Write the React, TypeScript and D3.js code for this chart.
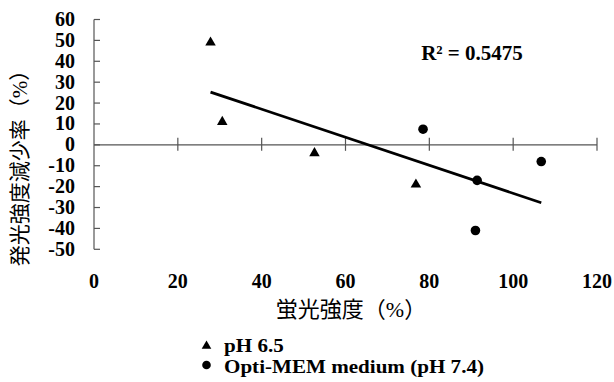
import React, { useRef, useEffect } from 'react';
import * as d3 from 'd3';

// pH 6.5 series
const phX = [27.8, 30.6, 52.6, 76.8];
const phY = [49, 11, -4, -19];
// Opti-MEM medium (pH 7.4) series
const optiX = [78.5, 91.4, 91.0, 106.7];
const optiY = [7.5, -17, -41, -8];

const xTicks = [0, 20, 40, 60, 80, 100, 120];
const yTicks = [60, 50, 40, 30, 20, 10, 0, -10, -20, -30, -40, -50];
const legendLabels = ['pH 6.5', 'Opti-MEM medium (pH 7.4)'];
const rSquaredLabel = 'R² = 0.5475';
const xTitle = '蛍光強度（%）';
const yTitle = '発光強度減少率（%）';

const serif = 'Liberation Serif, Times New Roman, DejaVu Serif, serif';
const cjk = 'Liberation Serif, Noto Sans CJK JP, serif';

const App = () => {
    const chart = useRef<SVGSVGElement>(null);

    useEffect(() => {
        const svg = d3.select(chart.current);
        svg.selectAll('*').remove();

        const x = d3.scaleLinear().domain([0, 120]).range([94, 597]);
        const y = d3.scaleLinear().domain([-50, 60]).range([249.3, 19.5]);
        const axisColor = '#555';

        // y axis line + inner ticks
        svg.append('line')
            .attr('x1', x(0)).attr('x2', x(0))
            .attr('y1', y(60)).attr('y2', y(-50))
            .attr('stroke', axisColor).attr('stroke-width', 1.2);
        svg.selectAll('.ytick')
            .data(yTicks)
            .enter()
            .append('line')
            .attr('x1', x(0)).attr('x2', x(0) + 6)
            .attr('y1', d => y(d)).attr('y2', d => y(d))
            .attr('stroke', axisColor).attr('stroke-width', 1.2);
        svg.selectAll('.ylabel')
            .data(yTicks)
            .enter()
            .append('text')
            .attr('x', 75)
            .attr('y', d => y(d) + 6.5)
            .attr('text-anchor', 'end')
            .attr('font-family', serif)
            .attr('font-weight', 'bold')
            .attr('font-size', 20)
            .text(d => d);

        // x axis line at y = 0 with cross ticks
        svg.append('line')
            .attr('x1', x(0)).attr('x2', x(120))
            .attr('y1', y(0)).attr('y2', y(0))
            .attr('stroke', axisColor).attr('stroke-width', 1.2);
        svg.selectAll('.xtick')
            .data(xTicks.filter(d => d > 0))
            .enter()
            .append('line')
            .attr('x1', d => x(d)).attr('x2', d => x(d))
            .attr('y1', y(0) - 7).attr('y2', y(0) + 6)
            .attr('stroke', axisColor).attr('stroke-width', 1.2);
        svg.selectAll('.xlabel')
            .data(xTicks)
            .enter()
            .append('text')
            .attr('x', d => x(d))
            .attr('y', 288)
            .attr('text-anchor', 'middle')
            .attr('font-family', serif)
            .attr('font-weight', 'bold')
            .attr('font-size', 20)
            .text(d => d);

        // axis titles
        svg.append('text')
            .attr('x', 351).attr('y', 317)
            .attr('text-anchor', 'middle')
            .attr('font-family', cjk)
            .attr('font-size', 22)
            .text(xTitle);
        svg.append('text')
            .attr('transform', 'translate(27, 163) rotate(-90)')
            .attr('text-anchor', 'middle')
            .attr('font-family', cjk)
            .attr('font-size', 21)
            .text(yTitle);

        // linear trend over both series
        const allX = phX.concat(optiX);
        const allY = phY.concat(optiY);
        const mx = d3.mean(allX) as number;
        const my = d3.mean(allY) as number;
        const sxy = d3.sum(allX, (v, i) => (v - mx) * (allY[i] - my));
        const sxx = d3.sum(allX, v => (v - mx) * (v - mx));
        const slope = sxy / sxx;
        const x0 = d3.min(allX) as number;
        const x1 = d3.max(allX) as number;
        svg.append('line')
            .attr('x1', x(x0)).attr('y1', y(my + slope * (x0 - mx)))
            .attr('x2', x(x1)).attr('y2', y(my + slope * (x1 - mx)))
            .attr('stroke', '#000').attr('stroke-width', 2.8);

        const tri = d3.symbol().type(d3.symbolTriangle).size(48);

        svg.selectAll('.tri')
            .data(phX)
            .enter()
            .append('path')
            .attr('d', tri)
            .attr('transform', (d, i) => `translate(${x(d)},${y(phY[i])})`)
            .attr('fill', '#000');
        svg.selectAll('.dot')
            .data(optiX)
            .enter()
            .append('circle')
            .attr('cx', d => x(d))
            .attr('cy', (d, i) => y(optiY[i]))
            .attr('r', 4.8)
            .attr('fill', '#000');

        svg.append('text')
            .attr('x', 472).attr('y', 60)
            .attr('text-anchor', 'middle')
            .attr('font-family', serif)
            .attr('font-weight', 'bold')
            .attr('font-size', 21)
            .text(rSquaredLabel);

        // legend (text is slightly stretched sideways in the original)
        const legend = svg.append('g');
        legend.append('path')
            .attr('d', d3.symbol().type(d3.symbolTriangle).size(40))
            .attr('transform', 'translate(206.5,346)')
            .attr('fill', '#000');
        legend.append('circle')
            .attr('cx', 206.5).attr('cy', 365)
            .attr('r', 4.3)
            .attr('fill', '#000');
        legend.selectAll('.ltext')
            .data(legendLabels)
            .enter()
            .append('text')
            .attr('transform', (d, i) => `translate(224, ${352 + i * 20.5}) scale(1.14, 1)`)
            .attr('font-family', serif)
            .attr('font-weight', 'bold')
            .attr('font-size', 18.5)
            .text(d => d);
    }, []);

    return (
        <svg ref={chart} width={614} height={382}
            style={{ position: 'absolute', left: 0, top: 0, background: '#fff' }}></svg>
    );
};

export default App;
